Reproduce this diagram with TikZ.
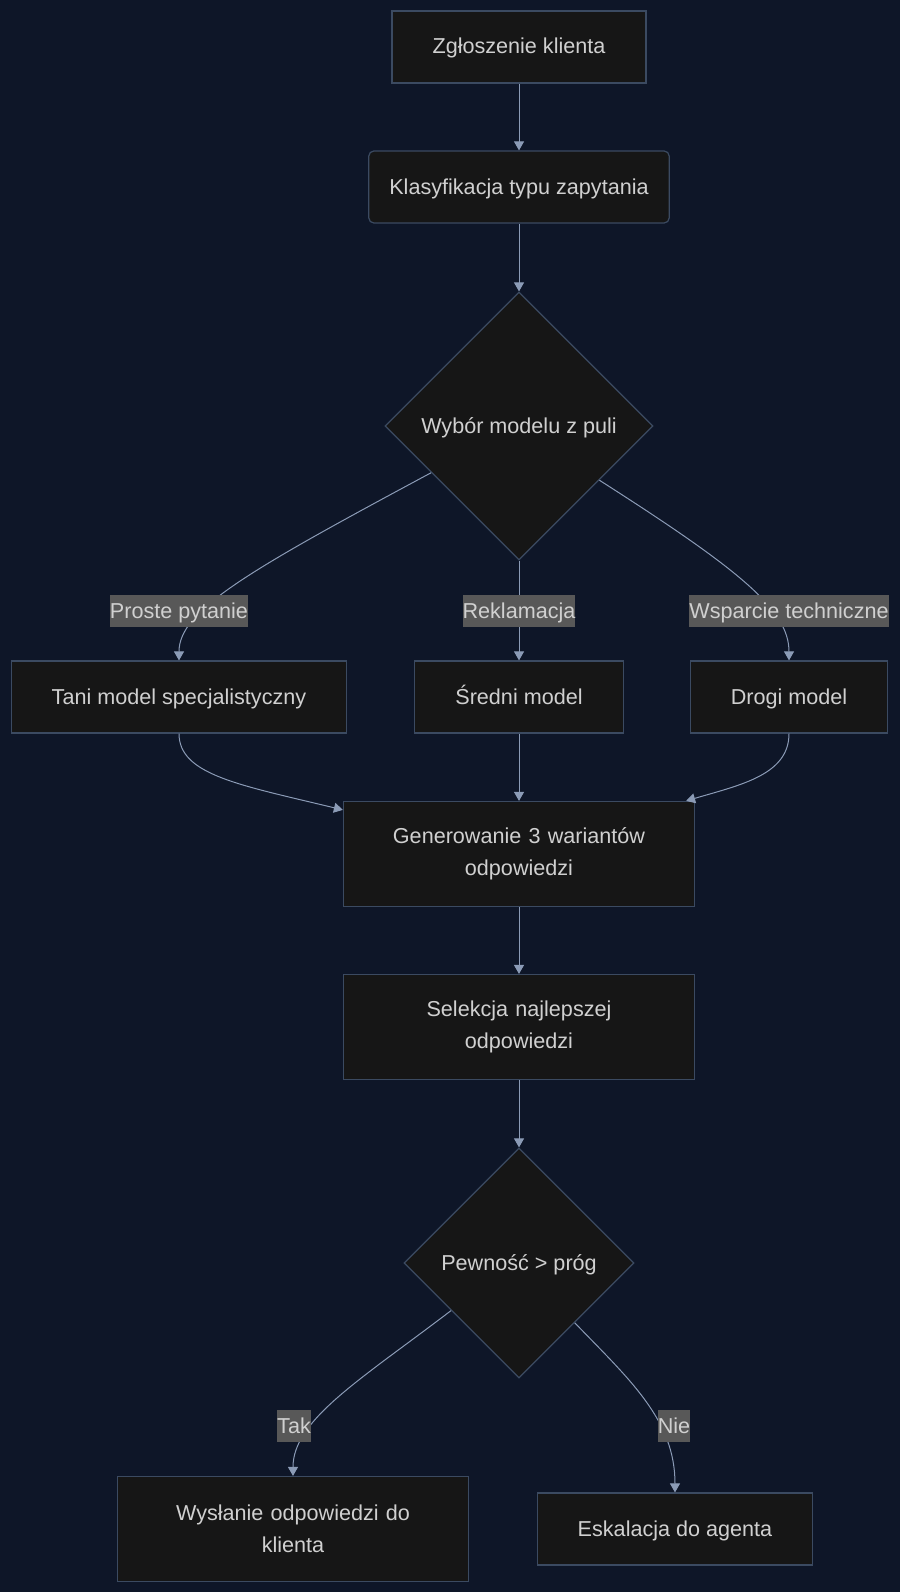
\documentclass[tikz,border=0pt]{standalone}
\usepackage{fontspec}
\setmainfont{Liberation Sans}
\usetikzlibrary{positioning,arrows.meta,shapes.geometric}
\definecolor{bgnavy}{HTML}{0E1628}
\definecolor{boxfill}{HTML}{161616}
\definecolor{boxline}{HTML}{3B4A61}
\definecolor{edgegray}{HTML}{8B9BB6}
\definecolor{lblfill}{HTML}{585858}
\definecolor{txtgray}{HTML}{D0D0D0}

\begin{document}
\begin{tikzpicture}[x=1pt,y=-1pt,
      font=\fontsize{21.6}{32.5}\selectfont, text=txtgray,
      box/.style={draw=boxline,line width=1.2pt,fill=boxfill,
                  minimum height=72pt,inner xsep=40.5pt,inner ysep=0pt,
                  text height=17pt,text depth=3pt},
      rbox/.style={box,rounded corners=5pt,inner xsep=20.5pt},
      wide/.style={draw=boxline,line width=1.2pt,fill=boxfill,inner xsep=40.5pt,
                   text width=270pt,align=center,minimum height=105pt},
      dec/.style={diamond,draw=boxline,line width=1.2pt,fill=boxfill,
                  aspect=1,inner sep=0pt,text height=17pt,text depth=3pt},
      lbl/.style={fill=lblfill,inner xsep=0pt,inner ysep=0pt,minimum height=31.5pt,
                  text height=17pt,text depth=3pt},
      arr/.style={-{Triangle[length=9pt,width=10pt]},line width=1pt,edgegray}]
    \fill[bgnavy] (0,0) rectangle (900,1592);
    \useasboundingbox (0,0) rectangle (900,1592);
    \node[box]  (zgl)   at (519,47)   {Zgłoszenie klienta};
    \node[rbox] (klas)  at (519,187)  {Klasyfikacja typu zapytania};
    \node[dec,minimum width=268pt,minimum height=268pt] (wyb) at (519,426) {Wybór modelu z puli};
    \node[box]  (tani)  at (179,697)  {Tani model specjalistyczny};
    \node[box]  (sred)  at (519,697)  {Średni model};
    \node[box]  (drogi) at (789,697)  {Drogi model};
    \node[wide] (gen)   at (519,854)  {Generowanie 3 wariantów\\odpowiedzi};
    \node[wide] (sel)   at (519,1027) {Selekcja najlepszej\\odpowiedzi};
    \node[dec,minimum width=230pt,minimum height=230pt] (pew) at (519,1263) {Pewność > próg};
    \node[wide] (wys)   at (293,1529) {Wysłanie odpowiedzi do\\klienta};
    \node[box]  (esk)   at (675,1529) {Eskalacja do agenta};
    \draw[arr] (zgl) -- (klas);
    \draw[arr] (klas) -- (wyb);
    \draw[arr] (wyb.208) .. controls (250,570) and (179,610) .. (tani.north);
    \draw[arr] (wyb) -- (sred);
    \draw[arr] (wyb.326) .. controls (740,570) and (789,610) .. (drogi.north);
    \draw[arr] (tani.south) .. controls (179,775) and (240,785) .. ([yshift=-9pt]gen.north west);
    \draw[arr] (sred) -- (gen);
    \draw[arr] (drogi.south) .. controls (789,775) and (740,785) .. ([xshift=-9pt]gen.north east);
    \draw[arr] (gen) -- (sel);
    \draw[arr] (sel) -- (pew);
    \draw[arr] (pew.215) .. controls (360,1380) and (293,1420) .. (wys.north);
    \draw[arr] (pew.313) .. controls (630,1380) and (675,1420) .. (esk.north);
    % edge labels
    \node[lbl] (lproste) at (179,611)  {Proste pytanie};
    \node[lbl] (lrekl)   at (519,611)  {Reklamacja};
    \node[lbl] (lwsp)    at (789,611)  {Wsparcie techniczne};
    \node[lbl] (ltak)    at (294,1426) {Tak};
    \node[lbl] (lnie)    at (674,1426) {Nie};
  \end{tikzpicture}
\end{document}
